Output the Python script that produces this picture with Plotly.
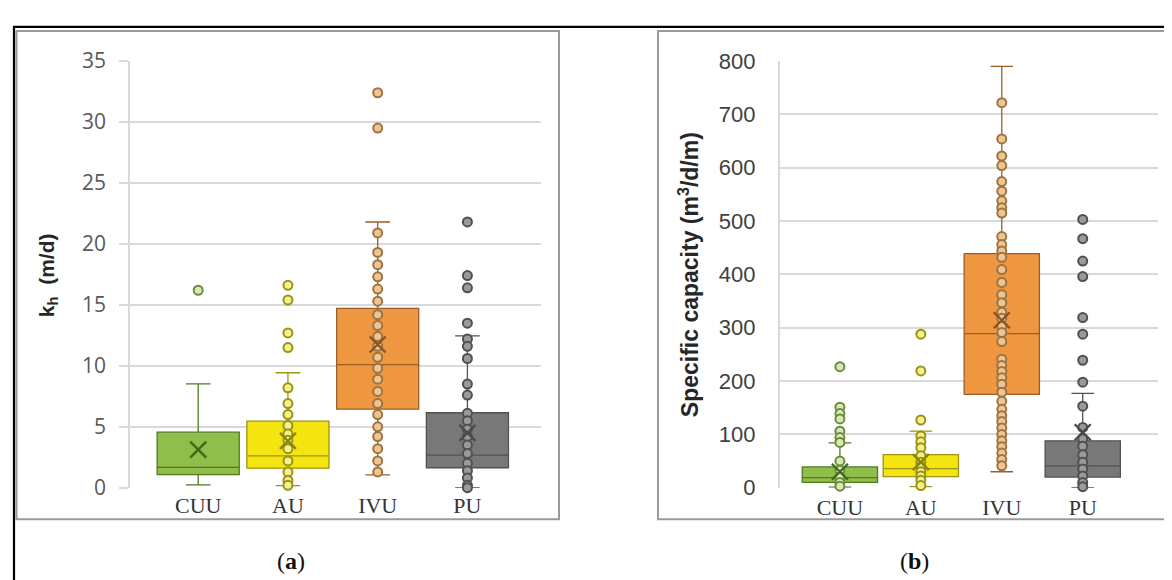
import plotly.graph_objects as go

# ---------------- data ----------------
categories = ["CUU", "AU", "IVU", "PU"]

# (a) horizontal hydraulic conductivity kh (m/d)
kh_q1 = [1.07, 1.6, 6.45, 1.64]
kh_median = [1.67, 2.62, 10.1, 2.68]
kh_q3 = [4.56, 5.47, 14.72, 6.15]
kh_lower = [0.23, 0.17, 1.05, 0.0]
kh_upper = [8.52, 9.43, 21.8, 12.45]
kh_mean = [3.12, 3.85, 11.75, 4.5]

kh_pts_CUU = [16.2]
kh_pts_AU = [16.6, 15.4, 12.7, 11.5, 8.2, 6.9, 6.0, 5.1, 4.4, 3.9, 3.2, 2.2, 1.3, 0.6, 0.2]
kh_pts_IVU = [32.4, 29.5, 20.9, 19.3, 18.3, 17.3, 16.3, 15.3, 14.2, 13.3, 12.4, 11.6,
              10.7, 9.8, 8.9, 7.9, 6.9, 6.0, 5.0, 4.2, 3.2, 2.2, 1.3]
kh_pts_PU = [21.8, 17.4, 16.4, 13.5, 12.2, 11.6, 10.6, 8.5, 7.6, 6.1, 5.5, 4.8, 4.2,
             3.5, 2.8, 2.0, 1.4, 0.8, 0.2, 0.0]

# (b) specific capacity (m3/d/m)
sc_q1 = [10, 21, 175, 20]
sc_median = [19, 36, 289, 41]
sc_q3 = [39, 62, 439, 88]
sc_lower = [1, 2, 30, 0]
sc_upper = [84, 106, 790, 177]
sc_mean = [30, 48, 314, 104]

sc_pts_CUU = [227, 151, 139, 129, 106, 94, 85, 50, 33, 20, 10, 3]
sc_pts_AU = [288, 219, 127, 97, 86, 75, 60, 48, 40, 30, 22, 14, 4]
sc_pts_IVU = [722, 654, 622, 604, 574, 556, 538, 525, 515, 471, 456, 444, 432, 409, 385,
              362, 347, 329, 318, 303, 291, 274, 241, 229, 218, 206, 194, 179, 162, 147,
              135, 124, 112, 100, 88, 77, 65, 53, 41]
sc_pts_PU = [503, 467, 425, 396, 319, 288, 239, 198, 153, 113, 92, 78, 62, 48, 35, 22, 10, 2]

kh_ticks = [0, 5, 10, 15, 20, 25, 30, 35]
sc_ticks = [0, 100, 200, 300, 400, 500, 600, 700, 800]

# ---------------- styles ----------------
fill_colors = ["#8FBE4A", "#F4E410", "#EE9640", "#787878"]
line_colors = ["#4F7A22", "#9C9414", "#9A5E28", "#525252"]
mean_colors = ["#3E6A1A", "#8A8410", "#8A5424", "#4A4A4A"]
pt_fill = ["#D6E8B8", "#F6F08A", "#F0C490", "#9A9A9A"]
pt_line = ["#6E8A3C", "#979318", "#9A7442", "#505050"]

W, H = 1172, 580


def px(x):
    return x / W


def py(y):
    return 1 - y / H


fig = go.Figure()

panels = [
    ("x", "y", kh_q1, kh_median, kh_q3, kh_lower, kh_upper, kh_mean,
     [kh_pts_CUU, kh_pts_AU, kh_pts_IVU, kh_pts_PU], 0.915),
    ("x2", "y2", sc_q1, sc_median, sc_q3, sc_lower, sc_upper, sc_mean,
     [sc_pts_CUU, sc_pts_AU, sc_pts_IVU, sc_pts_PU], 0.93),
]

for xa, ya, q1, med, q3, lo, hi, mean, pts, bw in panels:
    for i, cat in enumerate(categories):
        fig.add_trace(go.Box(
            x=[cat], q1=[q1[i]], median=[med[i]], q3=[q3[i]],
            lowerfence=[lo[i]], upperfence=[hi[i]],
            fillcolor=fill_colors[i],
            line=dict(color=line_colors[i], width=1.3),
            width=bw, whiskerwidth=0.3, boxpoints=False,
            xaxis=xa, yaxis=ya, showlegend=False, hoverinfo="skip",
        ))
    for i, cat in enumerate(categories):
        fig.add_trace(go.Scatter(
            x=[cat] * len(pts[i]), y=pts[i], mode="markers",
            marker=dict(symbol="circle", size=9, color=pt_fill[i],
                        line=dict(color=pt_line[i], width=2)),
            xaxis=xa, yaxis=ya, showlegend=False, cliponaxis=False,
        ))
        fig.add_trace(go.Scatter(
            x=[cat], y=[mean[i]], mode="markers",
            marker=dict(symbol="x-thin-open", size=16, color=mean_colors[i],
                        line=dict(color=mean_colors[i], width=2.4)),
            xaxis=xa, yaxis=ya, showlegend=False, cliponaxis=False,
        ))

ydom = [py(488.3), py(40)]
grid = "#D9D9D9"
cat_font = dict(family="Liberation Serif", size=22, color="#333333")

fig.update_layout(
    width=W, height=H,
    margin=dict(l=0, r=0, t=0, b=0),
    paper_bgcolor="white", plot_bgcolor="white",
    boxmode="overlay",
    xaxis=dict(domain=[px(122), px(533)], type="category",
               categoryorder="array", categoryarray=categories,
               range=[-0.76, 3.82], showgrid=False, showline=False,
               zeroline=False, ticks="", tickfont=cat_font, ticklabelstandoff=2),
    yaxis=dict(domain=ydom, range=[0, 35], tickvals=kh_ticks,
               showgrid=True, gridcolor=grid, gridwidth=1.5,
               showline=True, linecolor=grid, linewidth=1.5,
               ticks="outside", ticklen=9, tickcolor=grid, tickwidth=1.5,
               ticklabelstandoff=9, zeroline=False,
               tickfont=dict(family="Open Sans", size=21, color="#595959")),
    xaxis2=dict(domain=[px(771.6), px(1150)], type="category",
                categoryorder="array", categoryarray=categories,
                range=[-0.745, 3.93], showgrid=False, showline=False,
                zeroline=False, ticks="", tickfont=cat_font, ticklabelstandoff=4,
                anchor="y2"),
    yaxis2=dict(domain=ydom, range=[0, 800], tickvals=sc_ticks, anchor="x2",
                showgrid=True, gridcolor=grid, gridwidth=1.5,
                showline=True, linecolor=grid, linewidth=1.5,
                ticks="", ticklabelstandoff=18, zeroline=False,
                tickfont=dict(family="Liberation Sans", size=22, color="#404040")),
)

# frames
fig.add_shape(type="rect", xref="paper", yref="paper",
              x0=px(6), x1=px(1170), y0=py(620), y1=py(4),
              line=dict(color="black", width=2.2), layer="above")
for x0, x1 in [(8.5, 551), (650, 1162)]:
    fig.add_shape(type="rect", xref="paper", yref="paper",
                  x0=px(x0), x1=px(x1), y0=py(521.5), y1=py(8.5),
                  line=dict(color="#9A9A9A", width=2), layer="below")

# axis titles
fig.add_annotation(x=px(40), y=py(265), xref="paper", yref="paper",
                   text="<b>k<sub>h</sub>  (m/d)</b>", textangle=-90, showarrow=False,
                   font=dict(family="Liberation Sans", size=21, color="#262626"),
                   xanchor="center", yanchor="middle")
fig.add_annotation(x=px(681), y=py(265), xref="paper", yref="paper",
                   text="<b>Specific capacity (m<sup>3</sup>/d/m)</b>", textangle=-90,
                   showarrow=False,
                   font=dict(family="Liberation Sans", size=23, color="#262626"),
                   xanchor="center", yanchor="middle")

# panel labels
for lab, xx in [("(<b>a</b>)", 283), ("(<b>b</b>)", 906)]:
    fig.add_annotation(x=px(xx), y=py(565), xref="paper", yref="paper",
                       text=lab, showarrow=False,
                       font=dict(family="Liberation Serif", size=24, color="#111111"),
                       xanchor="center", yanchor="middle")

fig.write_html("out.html")
